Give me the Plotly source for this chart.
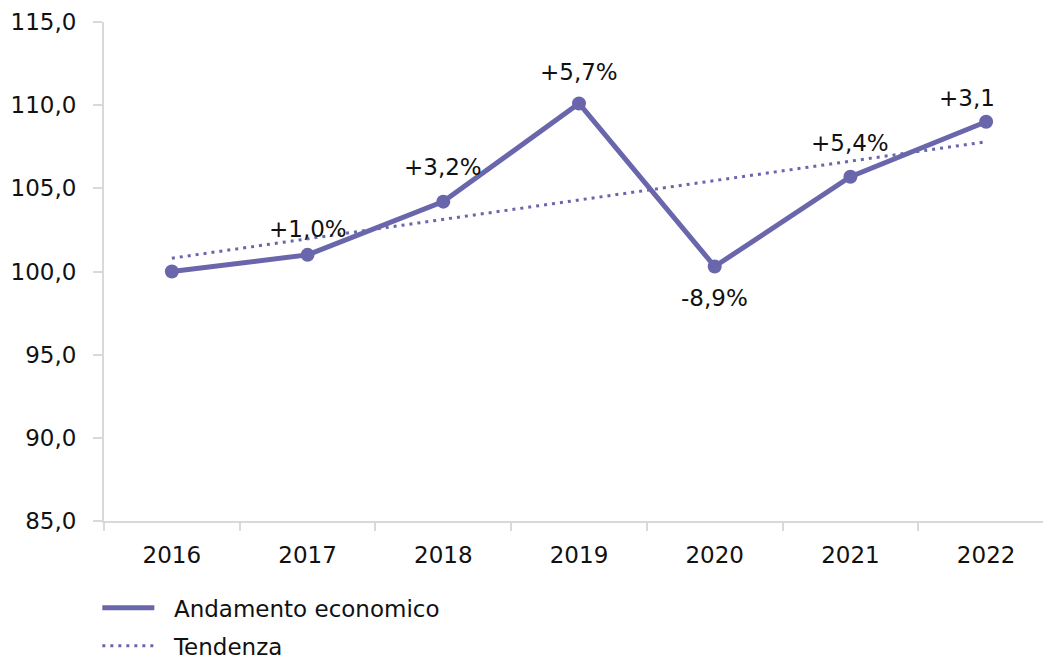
import plotly.graph_objects as go

years = ["2016", "2017", "2018", "2019", "2020", "2021", "2022"]
values = [100.0, 101.0, 104.2, 110.1, 100.3, 105.7, 109.0]
trend_years = ["2016", "2022"]
trend_values = [100.8, 107.8]
labels = ["", "+1,0%", "+3,2%", "+5,7%", "-8,9%", "+5,4%", "+3,1"]
label_yshift = [0, 26, 35, 32, -31, 34, 24]
label_xshift = [0, 0, 0, 0, 0, 0, -19]
y_ticks = [85, 90, 95, 100, 105, 110, 115]
y_tick_text = ["85,0", "90,0", "95,0", "100,0", "105,0", "110,0", "115,0"]

color = "#6A66AC"
axis_color = "#D9D9D9"
font = "DejaVu Sans"
fs = 23
nb = "\u00a0\u00a0"

fig = go.Figure()
fig.add_trace(go.Scatter(
    x=years, y=values, mode="lines", name=nb + "Andamento economico",
    line=dict(color=color, width=5), legendgroup="a",
))
fig.add_trace(go.Scatter(
    x=years, y=values, mode="markers", showlegend=False,
    marker=dict(size=14, color=color), legendgroup="a",
))
fig.add_trace(go.Scatter(
    x=trend_years, y=trend_values, mode="lines", name=nb + "Tendenza",
    line=dict(color=color, width=3, dash="3px,5px"),
    legendgroup="b",
))

for i, (v, t, ys, xs) in enumerate(zip(values, labels, label_yshift, label_xshift)):
    if not t:
        continue
    fig.add_annotation(x=i, y=v, xref="x", yref="y", text=t, showarrow=False,
                       yshift=ys, xshift=xs,
                       font=dict(family=font, size=fs, color="#111111"))

fig.update_layout(
    width=1051, height=661,
    margin=dict(l=96, r=5, t=14, b=148, autoexpand=False),
    paper_bgcolor="white", plot_bgcolor="white",
    font=dict(family=font, size=fs, color="#111111"),
    showlegend=True,
    legend=dict(
        orientation="v", xref="container", yref="container",
        x=0.085, y=0.125, xanchor="left", yanchor="top",
        itemwidth=52, tracegroupgap=5, traceorder="grouped",
        font=dict(family=font, size=fs, color="#111111"),
        bgcolor="rgba(0,0,0,0)",
    ),
)
fig.update_xaxes(
    type="category", range=[-0.5, 6.5],
    showline=True, linecolor=axis_color, linewidth=2,
    showgrid=False, zeroline=False,
    ticks="outside", tickson="boundaries", ticklen=8, tickcolor=axis_color, tickwidth=2,
    ticklabelstandoff=12,
    tickfont=dict(family=font, size=fs, color="#111111"),
)
fig.update_yaxes(
    range=[85, 115], tickvals=y_ticks, ticktext=y_tick_text,
    showline=True, linecolor=axis_color, linewidth=2,
    showgrid=False, zeroline=False,
    ticks="outside", ticklen=9, tickcolor=axis_color, tickwidth=2,
    ticklabelstandoff=12,
    tickfont=dict(family=font, size=fs, color="#111111"),
)

fig.write_html("out.html")
